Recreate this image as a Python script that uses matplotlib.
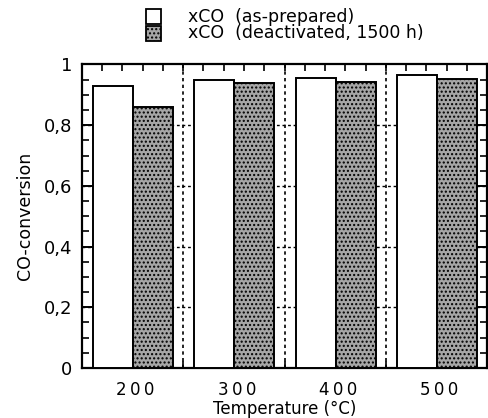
import matplotlib
matplotlib.use("Agg")
import matplotlib.pyplot as plt
from matplotlib.patches import Rectangle
from matplotlib.ticker import MultipleLocator, FixedLocator
import numpy as np

plt.rcParams['font.family'] = ['DejaVu Sans']

temperatures = ["200", "300", "400", "500"]
xco_prepared = [0.930, 0.948, 0.955, 0.964]
xco_deactivated = [0.860, 0.940, 0.943, 0.951]
series_labels = ["xCO  (as-prepared)", "xCO  (deactivated, 1500 h)"]
y_ticks = [0, 0.2, 0.4, 0.6, 0.8, 1]
y_tick_labels = ["0", "0,2", "0,4", "0,6", "0,8", "1"]

fig = plt.figure(figsize=(4.88, 4.18), dpi=100)
ax = fig.add_axes([0.168, 0.1196, 0.830, 0.7261])

x = np.arange(len(temperatures))
w = 0.395
grey = '#a6a6a6'
ax.bar(x + 0.11, xco_prepared, width=w, align='edge', facecolor='white',
       edgecolor='black', linewidth=1.4, zorder=3)
ax.bar(x + 0.11 + w, xco_deactivated, width=w, align='edge', facecolor=grey,
       edgecolor='black', linewidth=1.4, hatch='....', zorder=3)

ax.set_xlim(0, len(temperatures))
ax.set_ylim(0, 1)

# grid
for gx in range(1, len(temperatures)):
    ax.axvline(gx, color='black', linestyle=(0, (2, 2)), linewidth=1.2, zorder=1)
for gy in y_ticks[1:-1]:
    ax.axhline(gy, color='black', linestyle=(0, (2, 2)), linewidth=1.0, zorder=1)

ax.yaxis.set_major_locator(FixedLocator(y_ticks))
ax.set_yticklabels(y_tick_labels)
ax.yaxis.set_minor_locator(MultipleLocator(0.05))
ax.set_xticks(x + 0.53)
ax.set_xticklabels(["\u2009".join(t) for t in temperatures])
ax.xaxis.set_minor_locator(MultipleLocator(0.2))

ax.tick_params(axis='x', which='major', length=0, labelsize=12, pad=9.5)
ax.tick_params(axis='x', which='minor', direction='in', length=5, width=1.2,
               top=True, bottom=True)
ax.tick_params(axis='y', which='major', direction='in', length=9, width=1.4,
               labelsize=13, pad=7, right=True)
ax.tick_params(axis='y', which='minor', direction='in', length=5, width=1.2,
               right=True)
for s in ax.spines.values():
    s.set_linewidth(1.6)

ax.set_xlabel("Temperature (°C)", fontsize=12)
ax.xaxis.set_label_coords(0.5, -0.1065)
ax.set_ylabel("CO-conversion", fontsize=12.5, labelpad=7)

# legend
fs = 12.5
handles_y = [418 - 24, 418 - 41]
for i, lab in enumerate(series_labels):
    yb = handles_y[i] / 418
    fc = 'white' if i == 0 else grey
    r = Rectangle((146 / 488, yb), 15 / 488, 15 / 418, transform=fig.transFigure,
                  facecolor=fc, edgecolor='black', linewidth=1.3,
                  hatch=None if i == 0 else '....')
    fig.add_artist(r)
    fig.text(188 / 488, yb + 7.5 / 418, lab, fontsize=fs, va='center', ha='left')

fig.savefig("out.png", dpi=100)
